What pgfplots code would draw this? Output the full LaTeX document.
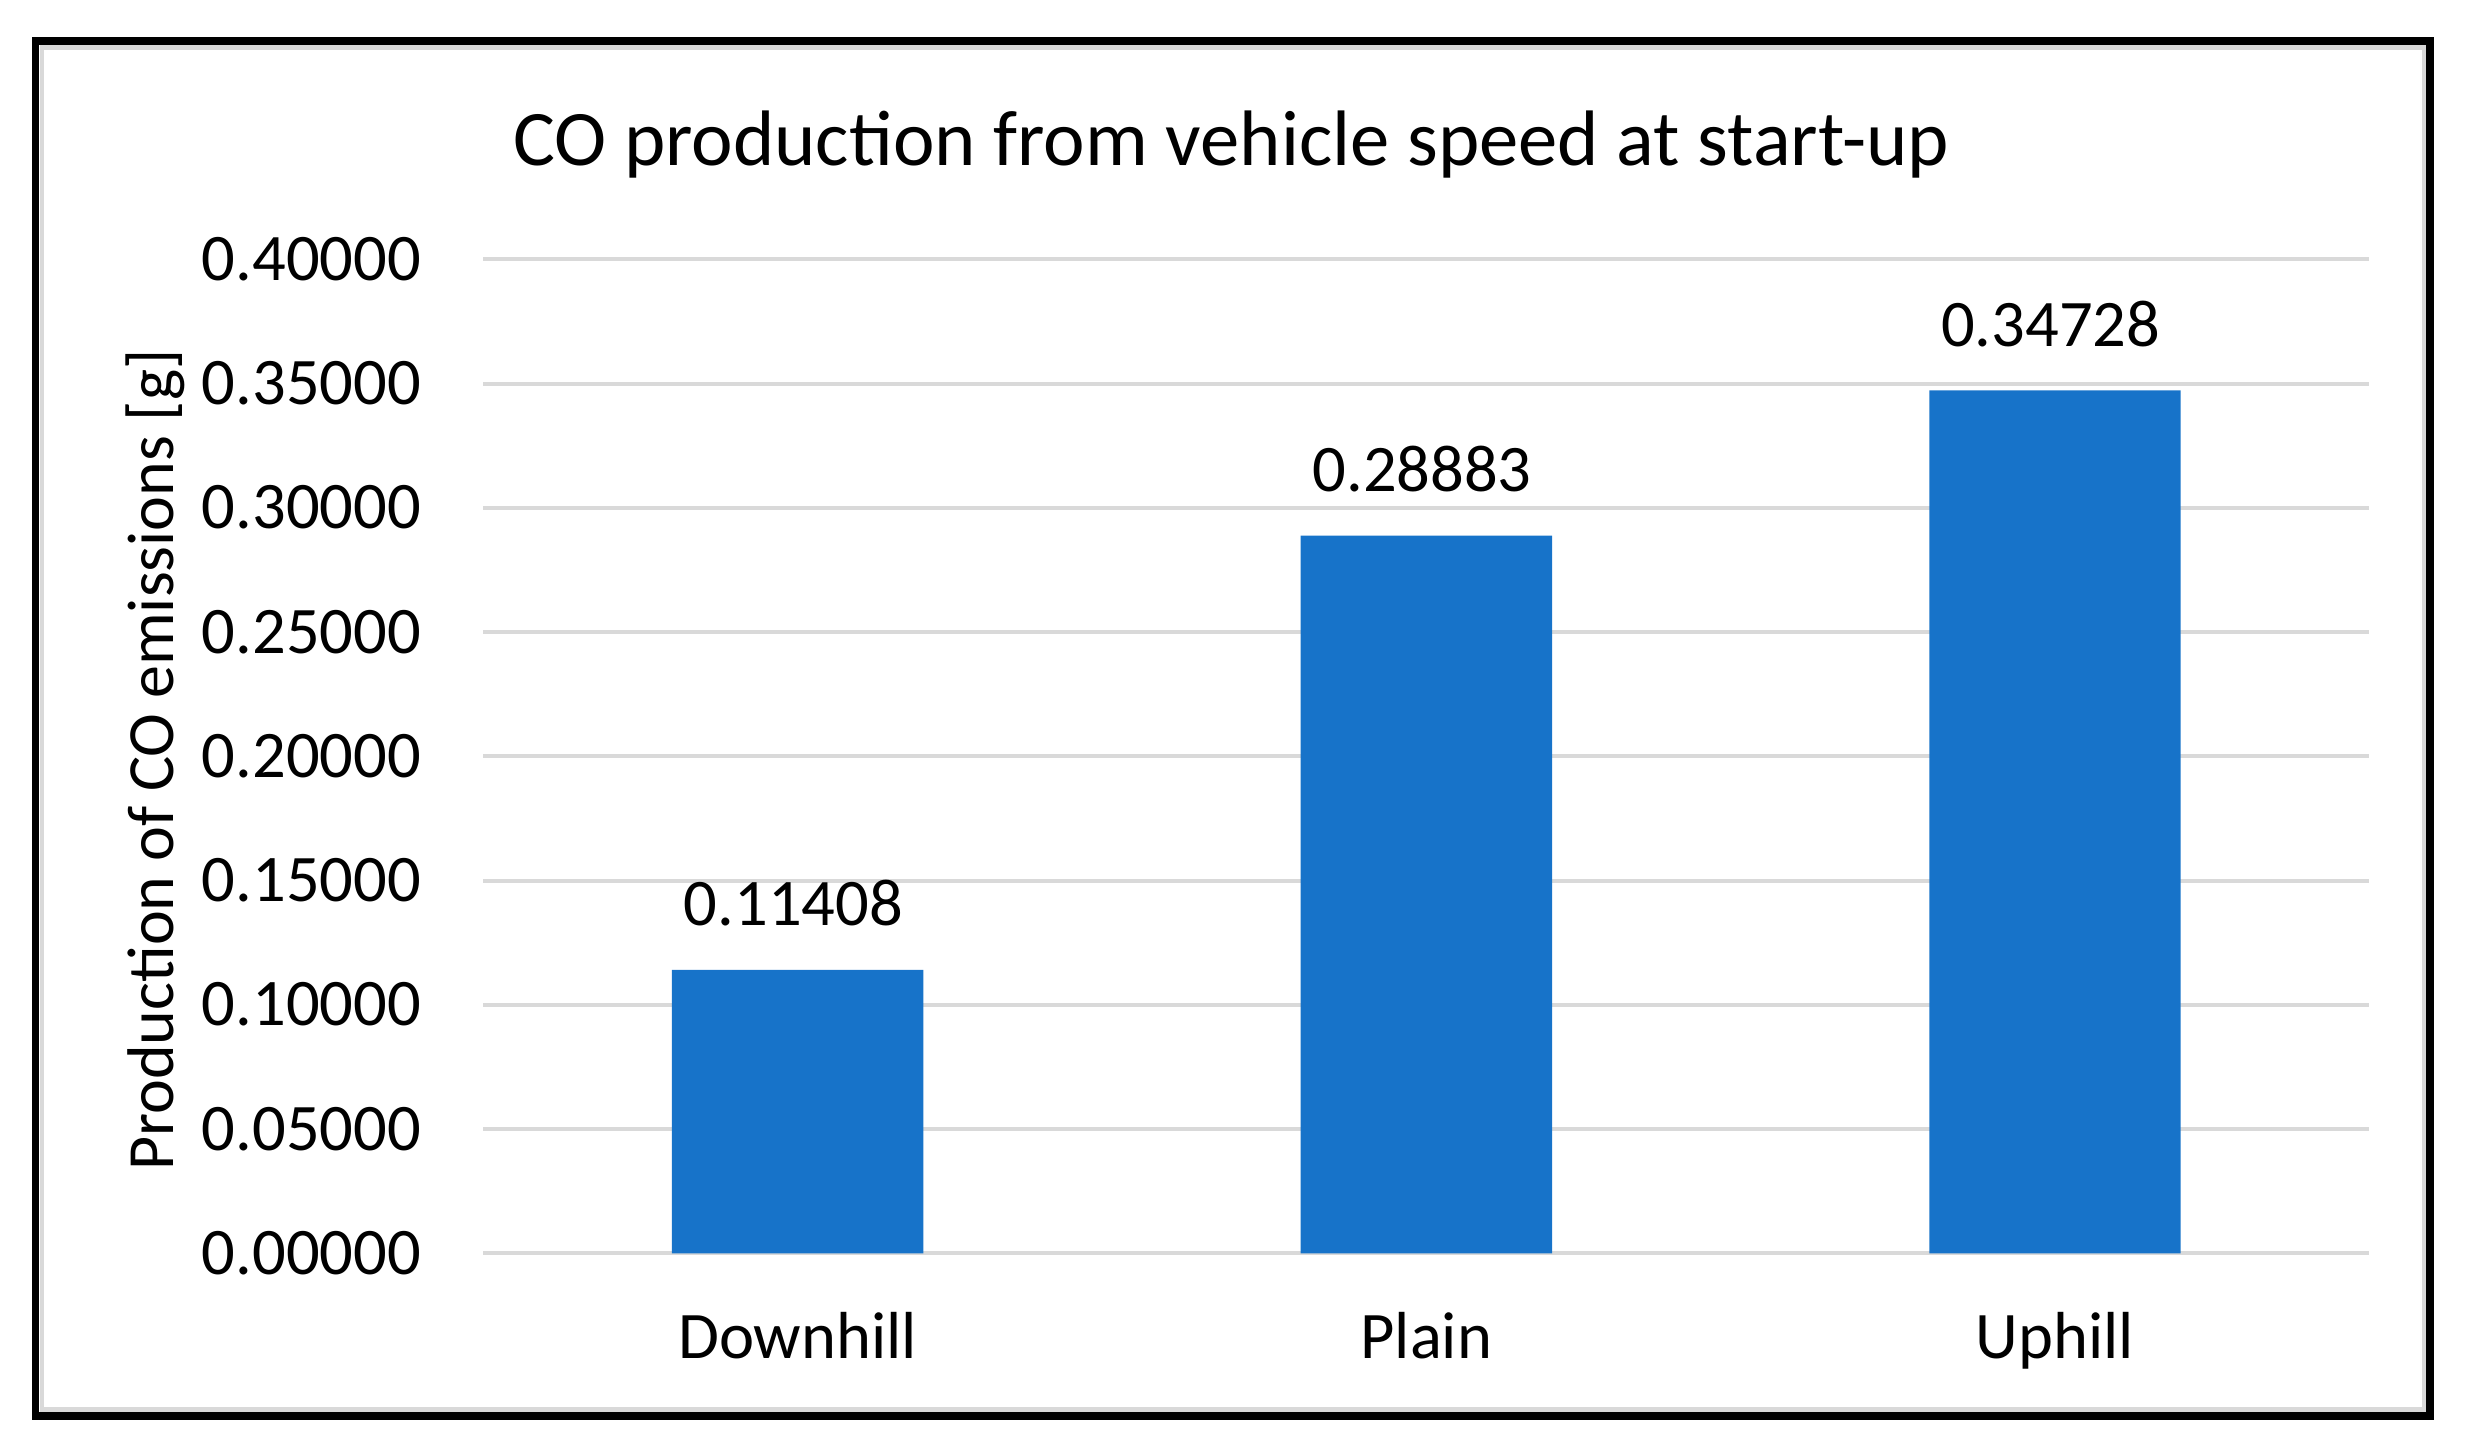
\documentclass[border=0pt]{standalone}
\usepackage{fontspec}
\setmainfont{Carlito}
\usepackage{pgfplots}
\pgfplotsset{compat=1.18}
\definecolor{barblue}{RGB}{23,115,201}
\definecolor{gridgray}{RGB}{217,217,217}
\begin{document}
\begin{tikzpicture}
\begin{axis}[
  at={(0,0)}, anchor=south west,
  scale only axis, width=357.2pt, height=188.27pt,
  xmin=-0.5, xmax=2.5, ymin=0, ymax=0.4,
  axis line style={draw=none},
  major tick length=0pt, tick style={draw=none},
  ymajorgrids, grid style={gridgray, line width=0.75pt},
  /pgf/number format/assume math mode=true,
  xtick={0,1,2}, xticklabels={Downhill,Plain,Uphill},
  ytick={0,0.05,0.1,0.15,0.2,0.25,0.3,0.35,0.4},
  yticklabel={\pgfmathprintnumber[fixed,fixed zerofill,precision=5]{\tick}},
  ticklabel style={font=\fontsize{12.6}{15}\selectfont, inner sep=0pt},
  yticklabel style={anchor=base east, xshift=-11.6pt, yshift=-4pt},
  xticklabel style={anchor=base, yshift=-20.0pt},
  clip=false,
]
\addplot[ybar, bar width=0.4, fill=barblue, draw=none,
  nodes near coords={\pgfmathprintnumber[fixed,fixed zerofill,precision=5]{\pgfplotspointmeta}},
  nodes near coords style={anchor=base, yshift=8.35pt, xshift=-0.8pt, inner sep=0pt, font=\fontsize{12.6}{15}\selectfont, text=black}]
  coordinates {(0,0.11408) (1,0.28883) (2,0.34728)};
\end{axis}
\node[anchor=base, font=\fontsize{14.9}{17}\selectfont, inner sep=0pt] at (141.64pt,206.03pt) {CO production from vehicle speed at start-up};
\node[rotate=90, anchor=base, font=\fontsize{12.5}{15}\selectfont, inner sep=0pt] at (-58.76pt,93.43pt) {Production of CO emissions [g]};
\draw[gridgray, line width=0.9pt] (-83.59pt,-29.58pt) rectangle (367.66pt,228.38pt);
\draw[black, line width=1.5pt] (-84.82pt,-30.82pt) rectangle (368.70pt,229.65pt);
\pgfresetboundingbox
\path[use as bounding box] (-91.54pt,-38.17pt) rectangle (376.46pt,237.38pt);
\end{tikzpicture}
\end{document}
